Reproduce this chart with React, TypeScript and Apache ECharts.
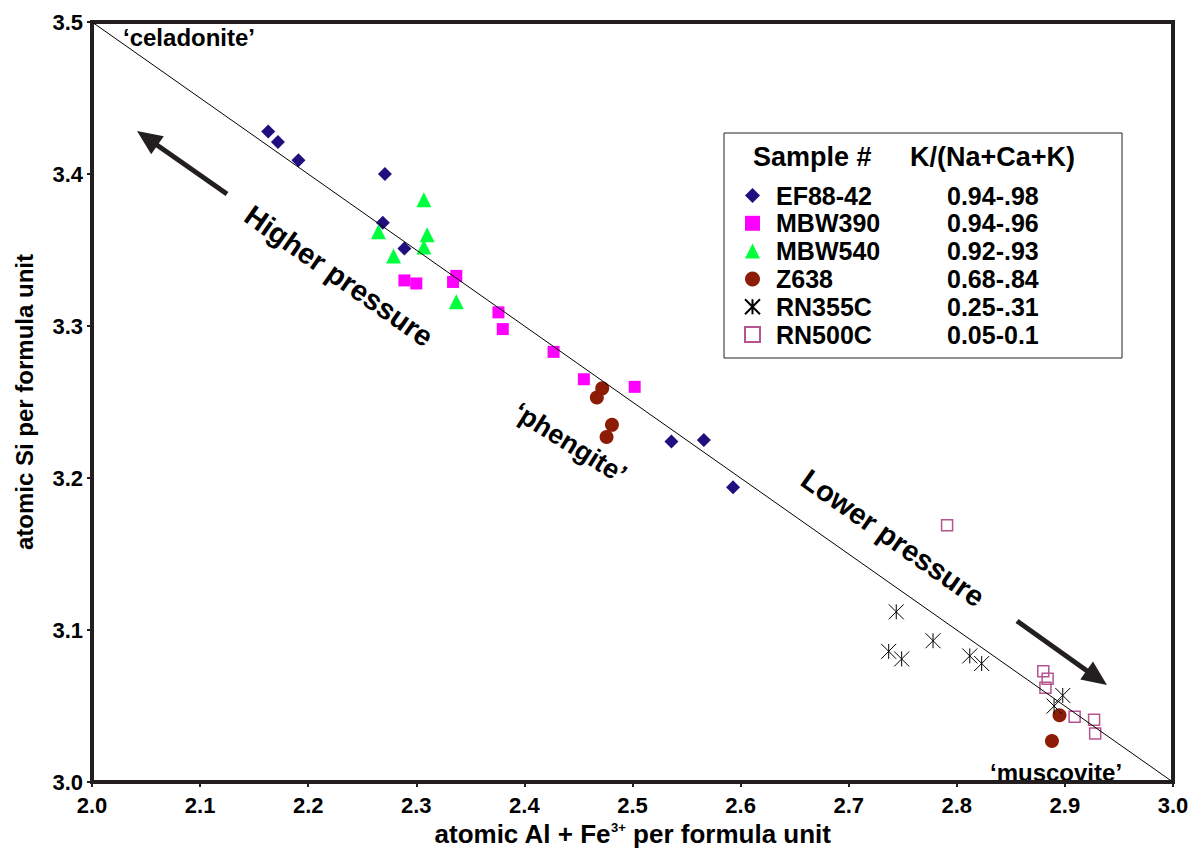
import React, { useEffect, useRef } from "react";
import * as echarts from "echarts";

const seriesNames = ["EF88-42", "MBW390", "MBW540", "Z638", "RN355C", "RN500C"];
const ratioLabels = ["0.94-.98", "0.94-.96", "0.92-.93", "0.68-.84", "0.25-.31", "0.05-0.1"];

const ef88_42 = [
  [2.163, 3.428], [2.172, 3.421], [2.191, 3.409], [2.271, 3.4], [2.269, 3.368],
  [2.289, 3.351], [2.536, 3.224], [2.566, 3.225], [2.593, 3.194],
];
const mbw390 = [
  [2.289, 3.33], [2.3, 3.328], [2.334, 3.329], [2.337, 3.333], [2.376, 3.309],
  [2.38, 3.298], [2.427, 3.283], [2.455, 3.265], [2.502, 3.26],
];
const mbw540 = [
  [2.307, 3.383], [2.265, 3.362], [2.31, 3.36], [2.279, 3.346], [2.307, 3.352], [2.337, 3.316],
];
const z638 = [
  [2.472, 3.259], [2.467, 3.253], [2.481, 3.235], [2.476, 3.227], [2.895, 3.044], [2.888, 3.027],
];
const rn355c = [
  [2.744, 3.112], [2.737, 3.086], [2.749, 3.081], [2.778, 3.093], [2.812, 3.083],
  [2.823, 3.078], [2.898, 3.057], [2.89, 3.05],
];
const rn500c = [
  [2.791, 3.169], [2.88, 3.073], [2.884, 3.068], [2.882, 3.062], [2.909, 3.043],
  [2.927, 3.041], [2.928, 3.032],
];
const refLine = [[2.0, 3.5], [3.0, 3.0]];

const xMin = 2.0, xMax = 3.0, yMin = 3.0, yMax = 3.5, tickStep = 0.1;

const FONT = 'Arial, "Liberation Sans", sans-serif';
const DARK = "#231f20";

function arrow(tail: number[], tip: number[], headLen: number, halfW: number, width: number) {
  const dx = tip[0] - tail[0], dy = tip[1] - tail[1];
  const L = Math.sqrt(dx * dx + dy * dy);
  const ux = dx / L, uy = dy / L;
  const bx = tip[0] - ux * headLen, by = tip[1] - uy * headLen;
  const px = -uy, py = ux;
  return [
    {
      type: "line",
      shape: { x1: tail[0], y1: tail[1], x2: bx + ux * 2, y2: by + uy * 2 },
      style: { stroke: DARK, lineWidth: width },
      silent: true,
    },
    {
      type: "polygon",
      shape: { points: [[tip[0], tip[1]], [bx + px * halfW, by + py * halfW], [bx - px * halfW, by - py * halfW]] },
      style: { fill: DARK },
      silent: true,
    },
  ];
}

export default function App() {
  const ref = useRef<HTMLDivElement>(null);
  useEffect(() => {
    const chart = echarts.init(ref.current!, null, { renderer: "svg" });
    const datasets = [ef88_42, mbw390, mbw540, z638, rn355c, rn500c];
    const symbols = ["diamond", "rect", "triangle", "circle", "path://M0,0L10,10M10,0L0,10M5,0L5,10", "rect"];
    const sizes = [14, 12, 15, 14, 15, 11];
    const styles: any[] = [
      { color: "#1f0f7f", opacity: 1 },
      { color: "#ff00ff", opacity: 1 },
      { color: "#00ff3c", opacity: 1 },
      { color: "#8c1c05", opacity: 1 },
      { color: "rgba(0,0,0,0)", borderColor: "#000", borderWidth: 1, opacity: 1 },
      { color: "rgba(0,0,0,0)", borderColor: "#b5548f", borderWidth: 1.5, opacity: 1 },
    ];
    const scatterSeries = seriesNames.map((name, i) => ({
      name,
      type: "scatter",
      data: datasets[i],
      symbol: symbols[i],
      symbolSize: sizes[i],
      itemStyle: styles[i],
      z: 3,
    }));
    const rowText = { fontFamily: FONT, fontWeight: "bold", fontSize: 25, color: "#000" };
    const option: any = {
      animation: false,
      backgroundColor: "#fff",
      grid: {
        left: 92, right: 26, top: 22, bottom: 62,
        show: true, borderColor: DARK, borderWidth: 4,
      },
      xAxis: {
        type: "value", min: xMin, max: xMax, interval: tickStep,
        name: "{a|atomic Al + Fe}{s|3+}{a| per formula unit}",
        nameLocation: "middle", nameGap: 38,
        nameTextStyle: {
          rich: {
            a: { fontFamily: FONT, fontWeight: "bold", fontSize: 26, color: "#000" },
            s: { fontFamily: FONT, fontWeight: "bold", fontSize: 13, color: "#000", verticalAlign: "top", padding: [0, 0, 12, 0] },
          },
        },
        axisLine: { lineStyle: { color: DARK, width: 4 } },
        axisTick: { length: 5, lineStyle: { color: DARK, width: 2 } },
        axisLabel: {
          formatter: (v: number) => v.toFixed(1),
          fontFamily: FONT, fontWeight: "bold", fontSize: 22, color: "#000", margin: 12,
        },
        splitLine: { show: false },
      },
      yAxis: {
        type: "value", min: yMin, max: yMax, interval: tickStep,
        name: "atomic Si per formula unit",
        nameLocation: "middle", nameGap: 56,
        nameTextStyle: { fontFamily: FONT, fontWeight: "bold", fontSize: 24, color: "#000" },
        axisLine: { lineStyle: { color: DARK, width: 4 } },
        axisTick: { length: 5, lineStyle: { color: DARK, width: 2 } },
        axisLabel: {
          formatter: (v: number) => v.toFixed(1),
          fontFamily: FONT, fontWeight: "bold", fontSize: 22, color: "#000", margin: 9,
        },
        splitLine: { show: false },
      },
      legend: {
        data: seriesNames,
        orient: "vertical",
        left: 744, top: 183,
        padding: 0,
        itemGap: 2.8,
        itemWidth: 15, itemHeight: 15,
        formatter: (name: string) => `{p| }{n|${name}}{v|${ratioLabels[seriesNames.indexOf(name)]}}`,
        textStyle: {
          rich: {
            p: { ...rowText, width: 11 },
            n: { ...rowText, width: 171 },
            v: { ...rowText },
          },
        },
        selectedMode: false,
      },
      series: [
        ...scatterSeries,
        {
          name: "ref",
          type: "line",
          data: refLine,
          symbol: "none",
          lineStyle: { color: "#000", width: 1 },
          silent: true,
          z: 4,
        },
      ],
      graphic: [
        {
          type: "rect",
          shape: { x: 724, y: 133, width: 398, height: 225 },
          style: { fill: "rgba(0,0,0,0)", stroke: "#222", lineWidth: 1 },
          silent: true,
        },
        {
          type: "text", x: 753, y: 157,
          style: { text: "Sample #", fontFamily: FONT, fontWeight: "bold", fontSize: 27, fill: "#000", align: "left", verticalAlign: "middle" },
        },
        {
          type: "text", x: 910, y: 157,
          style: { text: "K/(Na+Ca+K)", fontFamily: FONT, fontWeight: "bold", fontSize: 27, fill: "#000", align: "left", verticalAlign: "middle" },
        },
        {
          type: "text", x: 123, y: 37,
          style: { text: "\u2018celadonite\u2019", fontFamily: FONT, fontWeight: "bold", fontSize: 24, fill: "#000", align: "left", verticalAlign: "middle" },
        },
        {
          type: "text", x: 990, y: 772,
          style: { text: "\u2018muscovite\u2019", fontFamily: FONT, fontWeight: "bold", fontSize: 24, fill: "#000", align: "left", verticalAlign: "middle" },
        },
        {
          type: "text", x: 570, y: 443, rotation: (-32 * Math.PI) / 180,
          style: { text: "\u2018phengite\u2019", fontFamily: FONT, fontWeight: "bold", fontSize: 27, fill: "#000", align: "center", verticalAlign: "middle" },
        },
        {
          type: "text", x: 339, y: 276, rotation: (-35 * Math.PI) / 180,
          style: { text: "Higher pressure", fontFamily: FONT, fontWeight: "bold", fontSize: 29, fill: "#000", align: "center", verticalAlign: "middle" },
        },
        {
          type: "text", x: 893, y: 538, rotation: (-35 * Math.PI) / 180,
          style: { text: "Lower pressure", fontFamily: FONT, fontWeight: "bold", fontSize: 29, fill: "#000", align: "center", verticalAlign: "middle" },
        },
        ...arrow([227, 194], [137, 131], 25, 11, 5),
        ...arrow([1017, 621], [1107, 685], 25, 11, 5),
      ],
    };
    chart.setOption(option);
    return () => chart.dispose();
  }, []);
  return <div ref={ref} style={{ position: "absolute", left: 0, top: 0, width: 1199, height: 852 }} />;
}
